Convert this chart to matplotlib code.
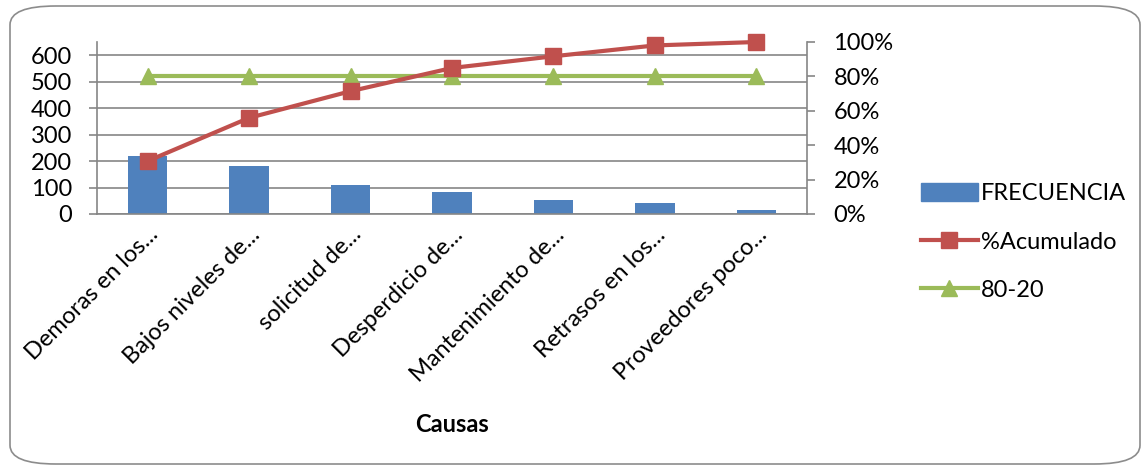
import matplotlib
matplotlib.use("Agg")
import matplotlib.pyplot as plt
from matplotlib.patches import FancyBboxPatch, Patch
from matplotlib.lines import Line2D
from matplotlib.ticker import PercentFormatter
from matplotlib.transforms import ScaledTranslation

plt.rcParams["font.family"] = ["Lato", "DejaVu Sans"]

causas = ["Demoras en los...", "Bajos niveles de...", "solicitud de...",
          "Desperdicio de...", "Mantenimiento de...", "Retrasos en los...",
          "Proveedores poco..."]
frecuencia = [219, 181, 108, 84, 52, 40, 16]
acumulado = [0.308, 0.559, 0.714, 0.849, 0.917, 0.98, 1.0]
linea_80_20 = [0.8, 0.8, 0.8, 0.8, 0.8, 0.8, 0.8]

BLUE, RED, GREEN, GRID = "#4F81BD", "#C0504D", "#9BBB59", "#868686"
FS = 17

fig = plt.figure(figsize=(11.47, 4.68), dpi=100)
W, H = 1147, 468
fig.patches.append(FancyBboxPatch((10 / W, 4 / H), 1130 / W, 458 / H,
                                  boxstyle="round,pad=0,rounding_size=0.04",
                                  transform=fig.transFigure, fc="white",
                                  ec="#8c8c8c", lw=1.2, zorder=-5))

ax = fig.add_axes([97 / W, 1 - 214 / H, 710 / W, 172 / H])
ax.patch.set_alpha(0)
x = range(len(causas))
ax.bar(x, frecuencia, width=0.39, color=BLUE, zorder=2)
ax.set_xlim(-0.5, 6.5)
ax.set_ylim(0, 650)
ax.set_yticks(range(0, 700, 100))
ax.grid(True, axis="y", color=GRID, lw=1.2, zorder=0)
ax.set_axisbelow(True)
ax.set_xticks(list(x))
ax.set_xticklabels(causas, rotation=45, ha="right", rotation_mode="anchor",
                   fontsize=FS)
shift = ScaledTranslation(16 / 100, 0, fig.dpi_scale_trans)
for lbl in ax.get_xticklabels():
    lbl.set_transform(lbl.get_transform() + shift)
ax.tick_params(axis="x", length=0, pad=7)
ax.tick_params(axis="y", labelsize=FS, color=GRID, length=6, width=1.2, pad=12)
for s in ["top", "right"]:
    ax.spines[s].set_visible(False)
for s in ["left", "bottom"]:
    ax.spines[s].set_color(GRID)
    ax.spines[s].set_linewidth(1.2)
ax.set_xlabel("Causas", fontsize=FS, fontweight="bold", labelpad=20)

ax2 = ax.twinx()
ax2.plot(x, linea_80_20, color=GREEN, lw=3, marker="^", ms=12, zorder=3,
         clip_on=False)
ax2.plot(x, acumulado, color=RED, lw=3, marker="s", ms=11, zorder=4,
         clip_on=False)
ax2.set_ylim(0, 1)
ax2.set_yticks([0, 0.2, 0.4, 0.6, 0.8, 1.0])
ax2.yaxis.set_major_formatter(PercentFormatter(1.0, decimals=0))
ax2.tick_params(axis="y", labelsize=FS, color=GRID, length=6, width=1.2, pad=13)
for s in ["top", "left", "bottom"]:
    ax2.spines[s].set_visible(False)
ax2.spines["right"].set_color(GRID)
ax2.spines["right"].set_linewidth(1.2)

handles = [Patch(color=BLUE),
           Line2D([], [], color=RED, lw=3, marker="s", ms=12),
           Line2D([], [], color=GREEN, lw=3, marker="^", ms=12)]
fig.legend(handles, ["FRECUENCIA", "%Acumulado", "80-20"],
           loc="upper left", bbox_to_anchor=(921 / W, 1 - 183 / H),
           frameon=False, fontsize=FS, handlelength=2.4, handleheight=0.8,
           handletextpad=0.15, labelspacing=1.15, borderpad=0,
           borderaxespad=0)

fig.savefig("out.png", dpi=100)
